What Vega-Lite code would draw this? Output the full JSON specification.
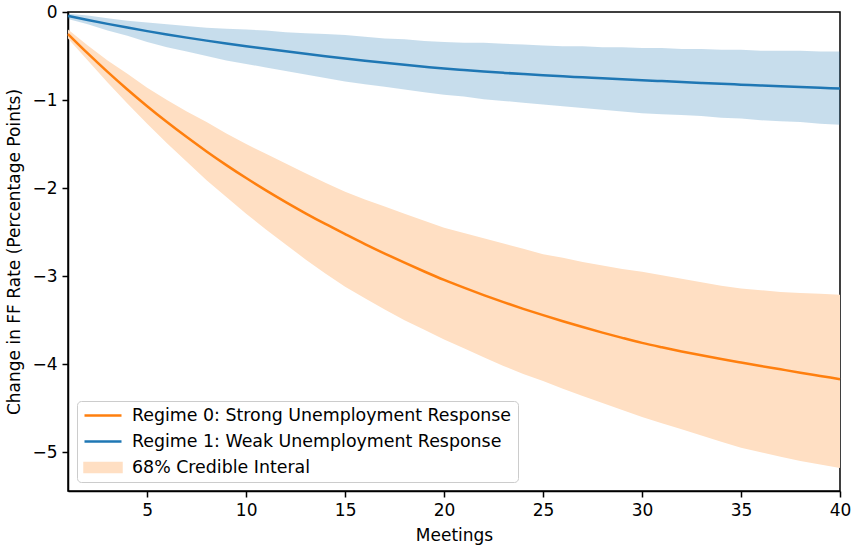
{
  "$schema": "https://vega.github.io/schema/vega-lite/v6.json",
  "width": 772,
  "height": 479,
  "autosize": {"type": "none"},
  "padding": {"left": 68, "top": 12, "right": 13, "bottom": 57},
  "background": "white",
  "config": {
    "view": {"stroke": "black", "strokeWidth": 1.5},
    "font": "DejaVu Sans",
    "axis": {
      "grid": false,
      "domainColor": "black",
      "domainWidth": 1.5,
      "tickColor": "black",
      "tickWidth": 1.5,
      "tickSize": 6,
      "labelFont": "DejaVu Sans",
      "labelFontSize": 17,
      "labelColor": "black",
      "labelPadding": 5,
      "labelFlush": false,
      "labelOverlap": false,
      "labelBound": false,
      "titleFont": "DejaVu Sans",
      "titleFontSize": 17,
      "titleFontWeight": "normal",
      "titleColor": "black"
    },
    "legend": {
      "labelFont": "DejaVu Sans",
      "labelFontSize": 17.4,
      "labelColor": "black",
      "labelLimit": 600
    }
  },
  "data": {
    "values": [
      {"m": 1, "o": -0.250, "ohi": -0.20, "olo": -0.30, "b": -0.045, "bhi": -0.02, "blo": -0.08},
      {"m": 2, "o": -0.470, "ohi": -0.38, "olo": -0.55, "b": -0.091, "bhi": -0.04, "blo": -0.14},
      {"m": 3, "o": -0.680, "ohi": -0.55, "olo": -0.80, "b": -0.135, "bhi": -0.07, "blo": -0.21},
      {"m": 4, "o": -0.880, "ohi": -0.70, "olo": -1.04, "b": -0.177, "bhi": -0.10, "blo": -0.27},
      {"m": 5, "o": -1.070, "ohi": -0.86, "olo": -1.27, "b": -0.217, "bhi": -0.12, "blo": -0.34},
      {"m": 6, "o": -1.250, "ohi": -1.00, "olo": -1.49, "b": -0.255, "bhi": -0.14, "blo": -0.40},
      {"m": 7, "o": -1.421, "ohi": -1.13, "olo": -1.70, "b": -0.291, "bhi": -0.16, "blo": -0.45},
      {"m": 8, "o": -1.584, "ohi": -1.25, "olo": -1.91, "b": -0.325, "bhi": -0.18, "blo": -0.50},
      {"m": 9, "o": -1.739, "ohi": -1.38, "olo": -2.10, "b": -0.357, "bhi": -0.19, "blo": -0.55},
      {"m": 10, "o": -1.886, "ohi": -1.50, "olo": -2.29, "b": -0.388, "bhi": -0.20, "blo": -0.59},
      {"m": 11, "o": -2.026, "ohi": -1.61, "olo": -2.47, "b": -0.418, "bhi": -0.21, "blo": -0.63},
      {"m": 12, "o": -2.159, "ohi": -1.72, "olo": -2.64, "b": -0.447, "bhi": -0.23, "blo": -0.67},
      {"m": 13, "o": -2.286, "ohi": -1.83, "olo": -2.81, "b": -0.475, "bhi": -0.24, "blo": -0.71},
      {"m": 14, "o": -2.407, "ohi": -1.94, "olo": -2.97, "b": -0.502, "bhi": -0.25, "blo": -0.75},
      {"m": 15, "o": -2.522, "ohi": -2.04, "olo": -3.12, "b": -0.528, "bhi": -0.26, "blo": -0.79},
      {"m": 16, "o": -2.635, "ohi": -2.13, "olo": -3.25, "b": -0.553, "bhi": -0.28, "blo": -0.82},
      {"m": 17, "o": -2.743, "ohi": -2.21, "olo": -3.38, "b": -0.577, "bhi": -0.30, "blo": -0.85},
      {"m": 18, "o": -2.847, "ohi": -2.29, "olo": -3.50, "b": -0.600, "bhi": -0.31, "blo": -0.88},
      {"m": 19, "o": -2.947, "ohi": -2.37, "olo": -3.61, "b": -0.622, "bhi": -0.33, "blo": -0.91},
      {"m": 20, "o": -3.043, "ohi": -2.45, "olo": -3.72, "b": -0.643, "bhi": -0.34, "blo": -0.94},
      {"m": 21, "o": -3.131, "ohi": -2.51, "olo": -3.82, "b": -0.660, "bhi": -0.35, "blo": -0.96},
      {"m": 22, "o": -3.215, "ohi": -2.57, "olo": -3.92, "b": -0.676, "bhi": -0.35, "blo": -0.99},
      {"m": 23, "o": -3.295, "ohi": -2.63, "olo": -4.02, "b": -0.691, "bhi": -0.36, "blo": -1.01},
      {"m": 24, "o": -3.371, "ohi": -2.69, "olo": -4.11, "b": -0.705, "bhi": -0.37, "blo": -1.03},
      {"m": 25, "o": -3.443, "ohi": -2.75, "olo": -4.19, "b": -0.718, "bhi": -0.38, "blo": -1.05},
      {"m": 26, "o": -3.512, "ohi": -2.79, "olo": -4.28, "b": -0.730, "bhi": -0.39, "blo": -1.07},
      {"m": 27, "o": -3.578, "ohi": -2.84, "olo": -4.36, "b": -0.742, "bhi": -0.39, "blo": -1.09},
      {"m": 28, "o": -3.641, "ohi": -2.88, "olo": -4.44, "b": -0.753, "bhi": -0.40, "blo": -1.11},
      {"m": 29, "o": -3.701, "ohi": -2.92, "olo": -4.52, "b": -0.764, "bhi": -0.40, "blo": -1.13},
      {"m": 30, "o": -3.758, "ohi": -2.95, "olo": -4.60, "b": -0.775, "bhi": -0.41, "blo": -1.15},
      {"m": 31, "o": -3.808, "ohi": -2.99, "olo": -4.67, "b": -0.785, "bhi": -0.41, "blo": -1.16},
      {"m": 32, "o": -3.855, "ohi": -3.03, "olo": -4.74, "b": -0.795, "bhi": -0.42, "blo": -1.17},
      {"m": 33, "o": -3.899, "ohi": -3.07, "olo": -4.81, "b": -0.805, "bhi": -0.42, "blo": -1.18},
      {"m": 34, "o": -3.941, "ohi": -3.11, "olo": -4.88, "b": -0.815, "bhi": -0.43, "blo": -1.20},
      {"m": 35, "o": -3.981, "ohi": -3.14, "olo": -4.95, "b": -0.825, "bhi": -0.43, "blo": -1.21},
      {"m": 36, "o": -4.020, "ohi": -3.16, "olo": -5.00, "b": -0.834, "bhi": -0.44, "blo": -1.23},
      {"m": 37, "o": -4.058, "ohi": -3.18, "olo": -5.05, "b": -0.843, "bhi": -0.44, "blo": -1.24},
      {"m": 38, "o": -4.096, "ohi": -3.19, "olo": -5.10, "b": -0.852, "bhi": -0.44, "blo": -1.25},
      {"m": 39, "o": -4.133, "ohi": -3.20, "olo": -5.14, "b": -0.861, "bhi": -0.45, "blo": -1.27},
      {"m": 40, "o": -4.170, "ohi": -3.21, "olo": -5.18, "b": -0.870, "bhi": -0.45, "blo": -1.28}
    ]
  },
  "encoding": {
    "x": {
      "field": "m",
      "type": "quantitative",
      "scale": {"domain": [1, 40], "nice": false, "zero": false},
      "axis": {"values": [5, 10, 15, 20, 25, 30, 35, 40], "title": "Meetings", "titlePadding": 9}
    }
  },
  "layer": [
    {
      "mark": {"type": "area", "color": "#1f77b4", "opacity": 0.25},
      "encoding": {
        "y": {
          "field": "bhi",
          "type": "quantitative",
          "scale": {"domain": [-5.44, 0], "nice": false, "zero": false},
          "axis": {"values": [0, -1, -2, -3, -4, -5], "format": "d", "title": "Change in FF Rate (Percentage Points)", "titlePadding": 8}
        },
        "y2": {"field": "blo"}
      }
    },
    {
      "mark": {"type": "area", "opacity": 1},
      "encoding": {
        "y": {"field": "ohi", "type": "quantitative"},
        "y2": {"field": "olo"},
        "color": {
          "datum": "68% Credible Interal",
          "type": "nominal",
          "scale": {
            "domain": ["Regime 0: Strong Unemployment Response", "Regime 1: Weak Unemployment Response", "68% Credible Interal"],
            "range": ["#ff7f0e", "#1f77b4", "#ffdfc3"]
          },
          "legend": {
            "title": null,
            "orient": "bottom-left",
            "offset": 9,
            "padding": 6,
            "rowPadding": 8,
            "clipHeight": 17,
            "strokeColor": "#cccccc",
            "fillColor": "rgba(255,255,255,0.8)",
            "cornerRadius": 4,
            "symbolSize": 1369,
            "symbolStrokeWidth": 2.5,
            "symbolOpacity": 1,
            "symbolType": {"expr": "datum.value === '68% Credible Interal' ? 'M-1,-0.24H1V0.24H-1Z' : 'M-1,0H1'"},
            "labelOffset": 9
          }
        }
      }
    },
    {
      "mark": {"type": "line", "strokeWidth": 2.5, "interpolate": "monotone"},
      "encoding": {
        "y": {"field": "o", "type": "quantitative"},
        "color": {"datum": "Regime 0: Strong Unemployment Response", "type": "nominal"}
      }
    },
    {
      "mark": {"type": "line", "strokeWidth": 2.5, "interpolate": "monotone"},
      "encoding": {
        "y": {"field": "b", "type": "quantitative"},
        "color": {"datum": "Regime 1: Weak Unemployment Response", "type": "nominal"}
      }
    }
  ]
}
